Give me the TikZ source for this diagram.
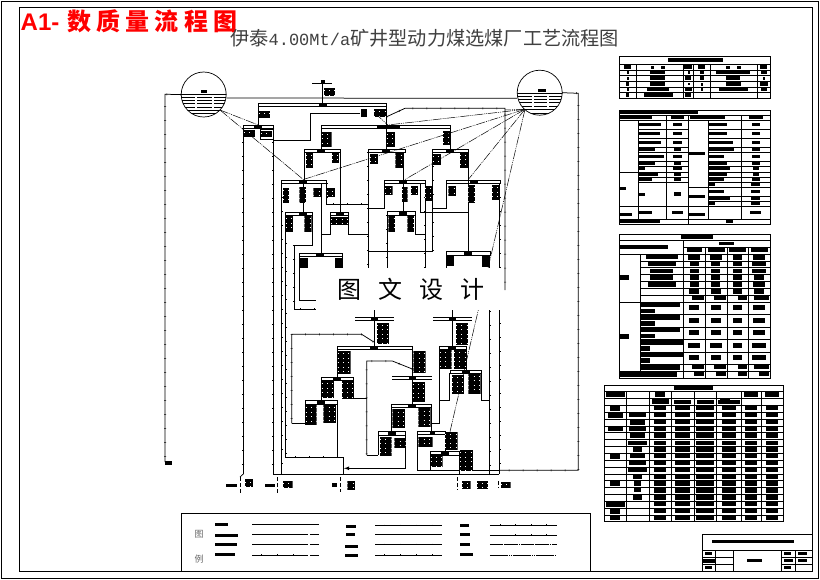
\documentclass[tikz,border=0pt]{standalone}
\usepackage{fontspec}
\setmainfont{Liberation Sans}
\newfontfamily\cjk{Noto Sans CJK SC}
\newfontfamily\monof{Liberation Mono}
\usetikzlibrary{decorations.pathreplacing}
\newcommand\rects[1]{\foreach \a/\b/\c/\d in {#1}{\fill (\a,\b) rectangle (\c,\d);}}
\newcommand\blob[4]{\begin{scope}\clip (#1,#2) rectangle (#3,#4);\fill (#1,#2) rectangle (#3,#4);
\foreach \k in {2.5,7,...,38}{\draw[white,line width=.6pt,dash pattern=on 1pt off 4.3pt] (#1,{#2+\k}) -- (#3,{#2+\k});}\end{scope}}
% screen: x1,x2,y,block centre
\newcommand\scr[4]{\draw[ln] (#1,#3) rectangle (#2,#3+3.2);\fill (#4-4,#3-.3) rectangle (#4+4,#3+3.2);}
\newcommand\dscr[4]{\draw[ln] (#1,#3) -- (#2,#3) (#1,#3+2.7) -- (#2,#3+2.7);\fill (#4-3.5,#3-.8) rectangle (#4+3.5,#3+3.5);}
\tikzset{
 ln/.style={line width=.75pt},
 tk/.style={line width=.75pt,postaction={decorate,draw,line width=.5pt,decoration={ticks,segment length=14pt,amplitude=1pt}}},
 dd/.style={line width=.5pt,dash pattern=on 9pt off 1pt on 1pt off 1pt on 1pt off 1pt},
 zm/.style 2 args={shift={(#1,#2)},x=.33333pt,y=-.33333pt},
 thick tank/.style={circle,draw,line width=.7pt,minimum size=45pt,inner sep=0pt},
 grid/.style={line width=.8pt},
}
\begin{document}
\begin{tikzpicture}[x=1pt,y=-1pt]
\useasboundingbox (0,0) rectangle (820,579);
\fill[white] (0,0) rectangle (820,579);
% frames
\draw[line width=1pt] (1,1) rectangle (818,578);
\draw[line width=1pt] (19.3,7) rectangle (812.7,571);
% headings
\node[anchor=west,inner sep=0pt,text=red] (hd) at (20.5,21.5) {\fontsize{24}{24}\selectfont\bfseries A1-\kern 5pt\cjk\foreach \c in {数,质,量,流,程,图}{\makebox[29.3pt]{\c}}};
\node[anchor=west,inner sep=0pt,text=black!75] (ttl) at (230,38) {\fontsize{19.2}{20}\selectfont\cjk 伊泰{\monof\fontsize{17}{19}\selectfont 4.00Mt/a}矿井型动力煤选煤厂工艺流程图};
% thickeners
\node[thick tank] (thL) at (203.7,94.5) {};
\node[thick tank] (thR) at (539.7,92.7) {};
\begin{scope}\clip (203.7,94.5) circle (22.5pt);
\foreach \y in {94.5,97.5,100.5,103.5,107,110,113.5}{\draw[ln] (180,\y) -- (228,\y);}
\foreach \y in {97.5,100.5,103.5,107}{\draw[white,line width=1pt] (195,\y) -- (196.5,\y);\draw[white,line width=1pt] (212,\y) -- (213.5,\y);}
\end{scope}
\begin{scope}\clip (539.7,92.7) circle (22.5pt);
\foreach \y in {93.5,96.5,99.5,102.5,106,109.5,113}{\draw[ln] (516,\y) -- (564,\y);}
\foreach \y in {96.5,99.5,102.5,106}{\draw[white,line width=1pt] (532,\y) -- (533.5,\y);\draw[white,line width=1pt] (547,\y) -- (548.5,\y);}
\end{scope}
\fill (201,89.5) rectangle (207,92.5);
\fill (537.5,88.8) rectangle (545.5,91.8);
% hubs
\coordinate (hubL) at (220,110);
\coordinate (hubR) at (525,109.3);
\coordinate (hTop) at (387.7,125);
\coordinate (hD) at (303.3,179.5);
\coordinate (hE) at (405,179.5);
\coordinate (hF) at (468.3,179.5);
\coordinate (hY) at (450,431.7);
\coordinate (hG) at (243.5,130);
\coordinate (hS) at (258.3,125);
% outer loops
\draw[tk] (thL.west) -- (165,94.3) -- (165,462);
\rects{165/460.5/172/464.5}
\draw[ln] (thL.east) ++(0,3.5) -- (517,98.3);
\draw[tk] (thR.east) -- (578.3,93.3) -- (578.3,470.3) -- (499.3,470.3);
% feed
\draw[ln] (312.3,83.3) -- (331.7,83.3) (322.7,83.3) -- (322.7,103);
\fill (320.7,80) rectangle (324.7,83.3);
\blob{323.5}{88}{335}{96}
% top screen
\scr{258.3}{386.7}{103.3}{322.7}
\draw[ln] (258.3,106.5) -- (258.3,125) (386.7,106.5) -- (386.7,125);
\blob{258.8}{111}{270}{118.3}
\rects{361/109/367.3/116.7}
\blob{374}{109}{386}{116.7}
\draw[ln] (360,113.3) -- (310,113.3) -- (310,140) -- (273.3,140);
\draw[tk] (386.7,116.7) -- (405,108.3) -- (505,108.3) -- (505,290);
% left sub screen
\scr{243.3}{273.3}{125}{258.3}
\draw[tk] (243.3,128) -- (243.3,474);
\draw[ln] (240,477) -- (243.3,474);
\draw[tk] (273.3,128) -- (273.3,474);
\blob{244}{130}{255}{137.3}
\draw[ln] (260,129.3) rectangle (273.3,139.3);
\blob{261}{131}{272}{137.3}
% second screen
\draw[ln] (321.7,125) rectangle (450,128.2);
\fill (376.7,124.7) rectangle (400,128.2);
\draw[tk] (321.7,128) -- (321.7,150);
\draw[ln] (386.7,128) -- (386.7,150) (450,128) -- (450,150);
\blob{321.7}{131.7}{331.7}{147.3}
\blob{386.7}{131.7}{395}{147.3}
\blob{442.7}{130.7}{450}{145}
% row 3
\scr{304.3}{340}{149.3}{321}
\scr{368.3}{405}{149.3}{386}
\scr{432.3}{468.3}{149.3}{450}
\draw[ln] (304.3,152) -- (304.3,180) (340,152) -- (340,212.3);
\blob{305.7}{152.7}{313.3}{168.3}
\blob{331.7}{152.7}{339.3}{163.3}
\draw[tk] (368.3,152) -- (368.3,270);
\draw[ln] (403.3,152) -- (403.3,180);
\blob{370}{154.3}{378.3}{164}
\blob{395.3}{152.7}{403.3}{168.3}
\draw[tk] (432.8,152) -- (432.8,251.7);
\draw[ln] (468.3,152) -- (468.3,251.7);
\blob{433}{154}{441}{165}
\blob{460}{152.7}{468}{168.3}
% row 4
\scr{281.7}{326.7}{180}{303.3}
\scr{384.3}{425}{180}{403.3}
\scr{446.7}{500}{180}{474}
\draw[tk] (281.7,183) -- (281.7,474);
\draw[tk] (326.7,183) -- (326.7,204.3) -- (368.3,204.3);
\draw[ln] (384.3,183) -- (384.3,208.3) -- (368.3,208.3);
\draw[tk] (425,183) -- (425,270);
\draw[ln] (368.3,251.7) -- (433,251.7);
\draw[ln] (446.7,183) -- (446.7,208.3) -- (432.8,208.3);
\draw[ln] (420,183) -- (420,212.7) -- (468.3,212.7);
\draw[ln] (303.3,183) -- (303.3,212.3) (403.3,183) -- (403.3,211.7) (321.7,183) -- (321.7,253.3);
\draw[tk] (499.5,183) -- (499.5,474);
\blob{282.7}{188}{289.3}{203.3}
\blob{299.3}{186.7}{306}{203.3}
\blob{313.3}{188.3}{321.7}{196.7}
\blob{326.7}{188.3}{335}{196.7}
\blob{385}{186}{392.7}{195}
\blob{401.7}{186.7}{407.7}{201.7}
\blob{411}{186}{418.3}{195}
\blob{425}{186}{433.3}{200.7}
\blob{448.3}{186}{456}{196}
\blob{468.3}{185}{475}{203.3}
\blob{491.7}{185}{499.5}{200}
% row 5
\scr{285.7}{312.7}{212.3}{303.3}
\scr{330.7}{348.3}{212.3}{340}
\scr{387.3}{415}{211.7}{403.3}
\draw[tk] (285.5,215) -- (285.5,457.3) -- (343.3,457.3);
\draw[ln] (343.3,457.3) -- (343.3,474);
\draw[ln] (312.7,215) -- (312.7,245) -- (294.3,245);
\draw[tk] (294.3,245) -- (294.3,309.3) -- (316,309.3);
\draw[ln] (330.7,215) -- (330.7,234) -- (321.7,234);
\draw[ln] (348.3,215) -- (348.3,234) -- (369,234);
\draw[tk] (387.3,215) -- (387.3,270);
\draw[ln] (415,215) -- (415,234) -- (425,234);
\blob{286}{216}{293.3}{231.7}
\blob{304.3}{216}{311.7}{231.7}
\blob{331}{216.7}{348.3}{225}
\blob{388.3}{216}{395}{231.7}
\blob{407.3}{216}{414}{231.7}
% row 6
\scr{299.3}{342.7}{253.3}{320}
\scr{446.7}{490}{251.7}{468.3}
\draw[ln] (299.3,256) -- (299.3,300.7) -- (316,300.7) (342,256) -- (342,270);
\draw[ln] (446.7,255) -- (446.7,270);
\draw[tk] (489.5,255) -- (489.5,474);
\rects{299.3/258.3/308.3/268.3,335/258.3/342.7/268.3,446.7/256/454/266,481.7/256/489.3/266.7}
% dash-dot tails
\draw[dd] (hubR) -- (hTop);
\draw[dd] (hubR) -- (505,110);
\draw[dd] (hubR) -- (hD);
\draw[dd] (hubR) -- (hE);
\draw[dd] (hubR) -- (hF);
\draw[dd] (hubR) -- (hY);
\draw[dd] (375,113) -- (hTop);
\draw[dd] (hubL) -- (hS);
\draw[dd] (hubL) -- (hD);
% lower part
\dscr{355}{394}{317.3}{374.3}
\dscr{433.3}{471.7}{317.3}{452.3}
\draw[ln] (374.3,310) -- (374.3,346) (452.3,310) -- (452.3,346);
\blob{376.7}{322.7}{389.3}{344}
\blob{456}{322.7}{468.3}{345}
\scr{337.3}{412.3}{346}{374.3}
\draw[ln] (337.3,349) -- (337.3,377.3) (412.3,349) -- (412.3,376.7);
\blob{337.7}{351}{350.7}{374}
\blob{413.3}{351}{425.7}{372.7}
\draw[tk] (373.3,341.7) -- (361.7,334.3) -- (291.7,334.3) -- (291.7,423.3);
\draw[ln] (291.7,423.3) -- (305.7,423.3);
\draw[tk] (412.3,369) -- (392.3,361) -- (366.7,361) -- (366.7,455);
\draw[ln] (366.7,455) -- (378.3,455);
\scr{321.3}{353.3}{377.3}{337.3}
\draw[ln] (321.3,380) -- (321.3,400.7) (353.3,380) -- (353.3,398.3) -- (366.7,398.3);
\blob{321.7}{381}{334}{398.3}
\blob{341.7}{381}{353.3}{399}
\scr{305.7}{337.7}{400.7}{321.3}
\draw[ln] (305.7,403.5) -- (305.7,425) (337.7,403.5) -- (337.7,457.3);
\blob{305.7}{405}{316.7}{425}
\blob{323.3}{404.3}{336}{423.3}
\dscr{392.3}{431.7}{376.7}{412.3}
\draw[ln] (412.3,379.4) -- (412.3,404.3);
\blob{412.8}{381.7}{425}{402.3}
\scr{391.7}{431.7}{404.3}{412.3}
\draw[ln] (391.7,407) -- (391.7,431.7) (431.7,407) -- (431.7,432) (431.7,423.3) -- (439.3,423.3) -- (439.3,349);
\blob{392.3}{409.3}{405}{428.3}
\blob{418.3}{408.3}{430.7}{427.3}
\scr{439.3}{466}{346}{452.3}
\draw[ln] (439.3,400) -- (449.7,400) -- (449.7,373) (466,349) -- (466,370);
\blob{440}{350}{451.7}{369.3}
\blob{454}{350}{466}{369.3}
\scr{450}{481.7}{370}{465.7}
\draw[ln] (481.7,373) -- (481.7,400) -- (489.5,400);
\blob{451.7}{375}{464.3}{394}
\blob{468.3}{373.3}{480.7}{394}
\scr{378.3}{405.7}{431.7}{391.7}
\draw[ln] (378.3,434) -- (378.3,455);
\draw[ln,-latex] (405.7,434) -- (405.7,468.3) -- (344,468.3);
\blob{380}{436.7}{391.7}{456}
\blob{394.3}{438.3}{405.7}{448.3}
\draw[ln] (417.3,431.7) rectangle (445,434.3);
\fill (429.7,431) rectangle (434.7,434.7);
\draw[ln] (417.3,434) -- (417.3,470.3) -- (499.3,470.3);
\draw[ln] (445,434) -- (445,452);
\blob{418.3}{436.7}{432.7}{446.7}
\blob{445}{431.7}{457.7}{450}
\scr{430.7}{459.3}{451.7}{445}
\draw[ln] (430.7,454) -- (430.7,470) (459.5,454) -- (459.5,474);
\blob{430.7}{454.3}{442.7}{466.7}
\blob{460}{450}{473.3}{470}
% bottom main
\draw[ln] (273.3,474) -- (499.3,474);
% bottom outputs
\rects{226/484.3/237.3/487.3,265/484.3/275/487.3,332.3/483.3/336.7/487.3}
\draw[line width=1pt,dash pattern=on 4pt off 2pt] (240,477) -- (240,494);
\draw[line width=1pt,dash pattern=on 4pt off 2pt] (277.3,477) -- (277.3,494);
\draw[line width=1pt,dash pattern=on 4pt off 2pt] (340,477) -- (340,492);
\draw[line width=1pt,dash pattern=on 4pt off 2pt] (457.7,477) -- (457.7,490);
\draw[line width=1pt,dash pattern=on 4pt off 2pt] (498,481) -- (498,488);
\blob{245}{479.3}{253.3}{487.3}
\blob{282.7}{480.7}{292.7}{488.3}
\blob{347.3}{480.7}{355}{490}
\blob{461.7}{480.7}{470.7}{489.3}
\blob{476.7}{480.7}{488.3}{489.3}
\blob{501}{481.7}{510.7}{488.3}
% watermark
\fill[white] (316,268) rectangle (504,310);
\node[inner sep=0pt,anchor=center] (wm) at (411,289.5) {\fontsize{24}{24}\selectfont\cjk\foreach \c in {图,文,设,计}{\makebox[41pt]{\c}}};
% table 1
\begin{scope}[zm={600}{50}]
\draw[grid] (58,18) rectangle (511,145);
\foreach \y in {42,62,77,94,111,127}{\draw[grid] (58,\y) -- (511,\y);}
\foreach \x in {110,250,280,332,473}{\draw[grid] (\x,42) -- (\x,145);}
\rects{204/24/369/37,72/44/92/57,153/48/162/57,183/48/195/57,250/44/276/57,294/44/315/57,378/48/390/57,411/48/423/57,480/44/501/57,
81/63/87/72,150/62/195/73,264/63/270/72,300/62/312/72,348/62/450/73,483/62/501/72,
81/82/87/90,150/77/195/90,255/77/273/90,300/77/312/90,378/77/420/90,489/82/495/90,
78/96/87/108,150/96/195/108,264/99/270/105,303/99/309/108,378/96/423/108,480/96/504/108,
81/114/87/123,141/111/207/123,255/111/276/123,303/114/309/123,357/111/444/123,483/114/501/122,
78/129/87/141,132/129/219/141,255/129/273/141}
\end{scope}
% table 2
\begin{scope}[zm={600}{50}]
\draw[grid] (58,181) rectangle (511,523);
\draw[grid] (58,196) -- (511,196) (58,211) -- (511,211) (58,508) -- (511,508);
\foreach \x in {199,424}{\draw[grid] (\x,196) -- (\x,508);}
\draw[grid] (265,196) -- (265,523) (115,211) -- (115,508) (325,211) -- (325,508);
\foreach \y in {238,265,292,307,334,349,367,382,397,469}{\draw[grid] (115,\y) -- (265,\y);}
\foreach \y in {238,265,292,307,334,349,367,382,397,412,439,454,469}{\draw[grid] (325,\y) -- (511,\y);}
\draw[grid] (58,367) -- (115,367) (58,469) -- (115,469) (265,412) -- (325,412) (265,469) -- (325,469);
\rects{60/183/294/192,60/196/156/207,213/196/252/207,270/196/375/207,447/196/489/207,
117/219/183/229,117/246/180/255,117/273/183/282,117/292/165/303,117/315/192/325,117/334/165/345,117/349/135/361,117/367/174/378,117/382/156/393,117/429/135/438,117/483/156/492,
219/219/246/229,219/246/246/255,219/273/246/282,222/292/243/303,219/315/246/325,222/334/243/345,219/349/246/361,222/367/243/378,222/382/243/393,222/426/243/438,216/483/249/492,
58/411/78/420,58/489/96/498,267/306/315/315,267/435/315/444,267/489/315/498,
327/219/381/229,327/246/381/255,327/273/399/282,327/292/402/303,327/315/372/325,327/334/381/345,327/349/390/361,327/367/381/378,327/382/372/393,327/397/345/408,327/420/372/429,327/439/390/450,327/454/345/465,
456/219/480/229,456/246/480/255,456/273/480/282,456/292/480/303,456/315/480/325,456/334/480/345,459/349/477/361,459/367/477/378,456/382/480/393,453/397/480/408,453/420/480/429,453/439/480/450,453/454/480/465,450/483/483/492,
60/510/180/520,378/510/399/520}
\end{scope}
% table 3
\begin{scope}[zm={600}{230}]
\draw[grid] (58,13) rectangle (511,445);
\draw[grid] (58,31) -- (511,31) (250,52) -- (511,52) (58,73) -- (511,73) (58,216) -- (511,216) (58,425) -- (511,425);
\draw[grid] (250,31) -- (250,445) (121,73) -- (121,425);
\foreach \x in {316,382,445}{\draw[grid] (\x,52) -- (\x,445);}
\foreach \y in {94,113,133,154,175,197,254,292,328,367,403}{\draw[grid] (121,\y) -- (511,\y);}
\rects{243/15/339/27,357/37/402/46,60/46/204/58,261/54/306/66,324/54/375/66,387/54/438/66,453/54/504/66,
138/75/234/88,144/96/228/108,150/117/219/129,150/135/219/150,144/156/228/171,
58/135/87/150,58/312/87/327,
123/218/240/232,123/237/165/249,123/255/240/270,123/273/165/288,123/293/240/306,123/312/165/324,123/328/250/345,123/348/150/363,123/366/250/381,123/384/150/399,123/405/240/420,
58/425/231/441,282/426/312/438,348/426/378/438,414/426/441/438,477/426/507/438,
264/75/300/90,270/96/297/108,270/117/297/129,270/135/297/150,270/156/297/171,267/177/297/192,276/198/312/210,
330/75/366/90,333/96/360/108,333/117/360/129,333/135/360/150,333/156/360/171,333/177/363/192,342/198/378/210,
399/75/426/90,399/96/426/108,399/117/426/129,399/135/426/150,399/156/426/171,399/177/426/192,414/198/441/210,
459/75/495/90,456/96/498/108,456/117/498/129,462/135/492/150,459/156/495/171,462/177/492/192,462/198/507/210,
267/225/297/240,267/264/297/279,267/300/297/315,264/339/300/354,267/375/297/390,276/405/312/417,
333/225/363/240,333/264/363/279,333/300/363/315,330/339/366/354,333/375/363/390,342/405/378/417,
399/225/426/240,399/264/426/279,399/300/426/315,399/339/426/354,399/375/426/390,414/405/441/417,
459/225/495/240,459/264/495/279,459/300/495/315,456/339/498/354,456/375/498/390,462/405/507/417}
\end{scope}
% table 4
\begin{scope}[zm={600}{380}]
\draw[grid] (13,15) rectangle (551,425);
\foreach \y in {33,54,75,96,117,138,157,179,199,219,240,261,282,301,322,343,363,384,405}{\draw[grid] (13,\y) -- (551,\y);}
\foreach \x in {79,148,214,283,349,424,484}{\draw[grid] (\x,33) -- (\x,425);}
\rects{222/17/339/31,18/36/75/51,165/36/195/51,432/36/474/51,495/36/537/51,
156/57/207/72,222/60/273/72,291/60/342/72,354/60/420/72,360/54/390/60,
30/78/60/93,24/99/69/114,24/141/69/153,30/222/60/237,30/304/60/319,18/366/75/381,30/387/60/402,30/408/60/421,
87/99/138/111,90/120/135/134,87/141/138/153,90/160/135/175,84/182/141/195,99/202/126/216,90/222/135/235,87/243/138/256,84/264/141/276,99/285/126/298,102/304/123/319,102/325/123/337,99/346/126/360}
\foreach \r in {75,96,117,138,157,179,199,219,240,261,282,301,322,343,363,384,405}{
 \foreach \p/\q in {162/198,225/270,288/342,366/408,435/471,498/534}{\fill (\p,\r+3) rectangle (\q,\r+16);}}
\end{scope}
% title block
\begin{scope}[zm={600}{380}]
\draw[grid] (307,463) rectangle (638,573);
\draw[grid] (307,512) -- (638,512) (307,532) -- (400,532) (307,553) -- (400,553) (545,532) -- (638,532) (545,553) -- (638,553);
\draw[grid] (347,512) -- (347,573) (400,512) -- (400,573) (545,512) -- (545,573) (587,512) -- (587,573);
\rects{336/480/582/490,316/516/336/526,308/537/346/548,316/558/336/568,441/537/486/546,552/516/573/526,594/516/621/526,552/537/579/546,594/537/621/546,552/558/573/568}
\end{scope}
% legend
\begin{scope}[zm={170}{505}]
\draw[line width=.8pt] (34,198) -- (34,25) -- (1262,25) -- (1262,198);
\rects{135/54/174/63,135/87/204/96,135/114/201/123,135/144/195/153,528/60/558/69,528/84/555/93,525/120/564/129,525/147/564/156,870/57/897/66,870/84/900/93,870/114/900/123,870/144/909/153}
\draw[ln] (246,58) -- (447,58);
\draw[ln] (246,88) -- (414,88) (420,88) -- (447,88);
\draw[ln] (246,118) -- (414,118) (420,118) -- (447,118);
\draw[ln] (246,150) -- (414,150) (420,150) -- (447,150);
\draw[ln] (615,88) -- (816,88);
\draw[ln] (615,61) -- (816,61) (615,118) -- (816,118) (615,150) -- (816,150);
\draw[ln] (960,60) -- (1160,60) (960,90) -- (1160,90);
\foreach \a/\b in {960/1160}{\draw[ln,dash pattern=on 13pt off .8pt on .8pt off .8pt] (\a,118) -- (\b,118);\draw[ln,dash pattern=on 18pt off 1pt on 1pt off 1pt on 1pt off 1pt] (\a,151) -- (\b,151);}
\foreach \x in {275,322,370}{\draw[line width=.5pt] (\x,148) -- (\x,152);}
\foreach \x in {643,691,740,788}{\draw[line width=.5pt] (\x,59) -- (\x,63) (\x,116) -- (\x,120) (\x,148) -- (\x,152);}
\foreach \x in {990,1037,1085,1130}{\draw[line width=.5pt] (\x,58) -- (\x,62);}
\foreach \x in {1037,1085,1130}{\draw[line width=.5pt] (\x,88) -- (\x,92);}
\node[inner sep=0pt,text=black!60] (lg1) at (87,89) {\fontsize{9}{9}\selectfont\cjk 图};
\node[inner sep=0pt,text=black!60] (lg2) at (87,162) {\fontsize{9}{9}\selectfont\cjk 例};
\end{scope}
\end{tikzpicture}
\end{document}
